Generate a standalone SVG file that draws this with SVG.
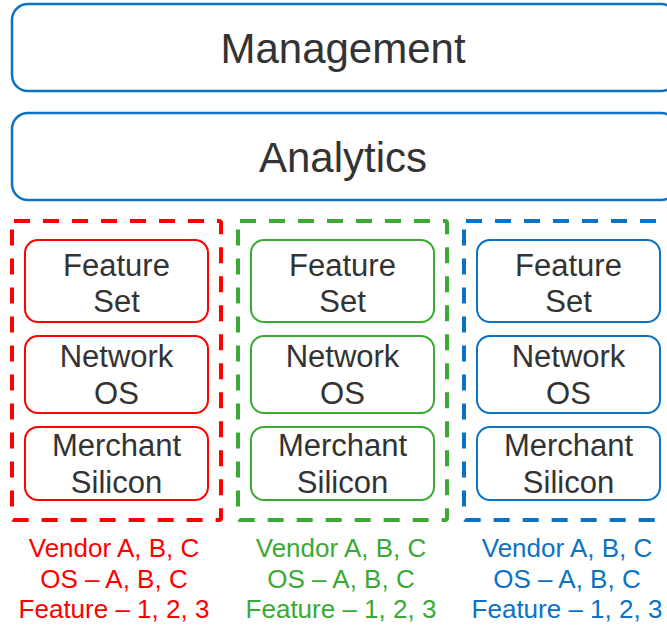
<svg xmlns="http://www.w3.org/2000/svg" width="667" height="625" viewBox="0 0 667 625">
<style>
text{font-family:"Liberation Sans",Arial,sans-serif;text-anchor:middle}
.big{font-size:42px;fill:#333}
.mid{font-size:31px;fill:#333}
.lbl{font-size:26px}
.top{fill:#fff;stroke:#0B72C4;stroke-width:2.5}
.dash{fill:none;stroke-width:4;stroke-dasharray:16,13}
.inner{fill:#fff;stroke-width:2}
.r{stroke:#FF0000}.g{stroke:#3AAA35}.b{stroke:#0B72C4}
.tr{fill:#FF0000}.tg{fill:#3AAA35}.tb{fill:#0B72C4}
</style>
<g id="management"><rect class="top" x="12" y="4" width="665" height="87" rx="16"/><text class="big" x="343" y="63">Management</text></g>
<g id="analytics"><rect class="top" x="12" y="113" width="665" height="87" rx="16"/><text class="big" x="343" y="172">Analytics</text></g>
<g id="col-red">
<rect class="dash r" x="12" y="221" width="209" height="299" rx="2"/>
<g id="red-feature"><rect class="inner r" x="25" y="240" width="183" height="82" rx="13"/><text class="mid" x="116.5" y="276">Feature</text><text class="mid" x="116.5" y="312">Set</text></g>
<g id="red-os"><rect class="inner r" x="25" y="336" width="183" height="77" rx="13"/><text class="mid" x="116.5" y="367">Network</text><text class="mid" x="116.5" y="404">OS</text></g>
<g id="red-silicon"><rect class="inner r" x="25" y="427" width="183" height="73" rx="13"/><text class="mid" x="116.5" y="456">Merchant</text><text class="mid" x="116.5" y="493">Silicon</text></g>
<text class="lbl tr" x="114" y="557">Vendor A, B, C</text><text class="lbl tr" x="114" y="588">OS – A, B, C</text><text class="lbl tr" x="114" y="618">Feature – 1, 2, 3</text>
</g>
<g id="col-green">
<rect class="dash g" x="238" y="221" width="209" height="299" rx="2"/>
<g id="green-feature"><rect class="inner g" x="251" y="240" width="183" height="82" rx="13"/><text class="mid" x="342.5" y="276">Feature</text><text class="mid" x="342.5" y="312">Set</text></g>
<g id="green-os"><rect class="inner g" x="251" y="336" width="183" height="77" rx="13"/><text class="mid" x="342.5" y="367">Network</text><text class="mid" x="342.5" y="404">OS</text></g>
<g id="green-silicon"><rect class="inner g" x="251" y="427" width="183" height="73" rx="13"/><text class="mid" x="342.5" y="456">Merchant</text><text class="mid" x="342.5" y="493">Silicon</text></g>
<text class="lbl tg" x="341" y="557">Vendor A, B, C</text><text class="lbl tg" x="341" y="588">OS – A, B, C</text><text class="lbl tg" x="341" y="618">Feature – 1, 2, 3</text>
</g>
<g id="col-blue">
<rect class="dash b" x="464" y="221" width="209" height="299" rx="2"/>
<g id="blue-feature"><rect class="inner b" x="477" y="240" width="183" height="82" rx="13"/><text class="mid" x="568.5" y="276">Feature</text><text class="mid" x="568.5" y="312">Set</text></g>
<g id="blue-os"><rect class="inner b" x="477" y="336" width="183" height="77" rx="13"/><text class="mid" x="568.5" y="367">Network</text><text class="mid" x="568.5" y="404">OS</text></g>
<g id="blue-silicon"><rect class="inner b" x="477" y="427" width="183" height="73" rx="13"/><text class="mid" x="568.5" y="456">Merchant</text><text class="mid" x="568.5" y="493">Silicon</text></g>
<text class="lbl tb" x="567" y="557">Vendor A, B, C</text><text class="lbl tb" x="567" y="588">OS – A, B, C</text><text class="lbl tb" x="567" y="618">Feature – 1, 2, 3</text>
</g>
<g id="connectors"/>
</svg>
